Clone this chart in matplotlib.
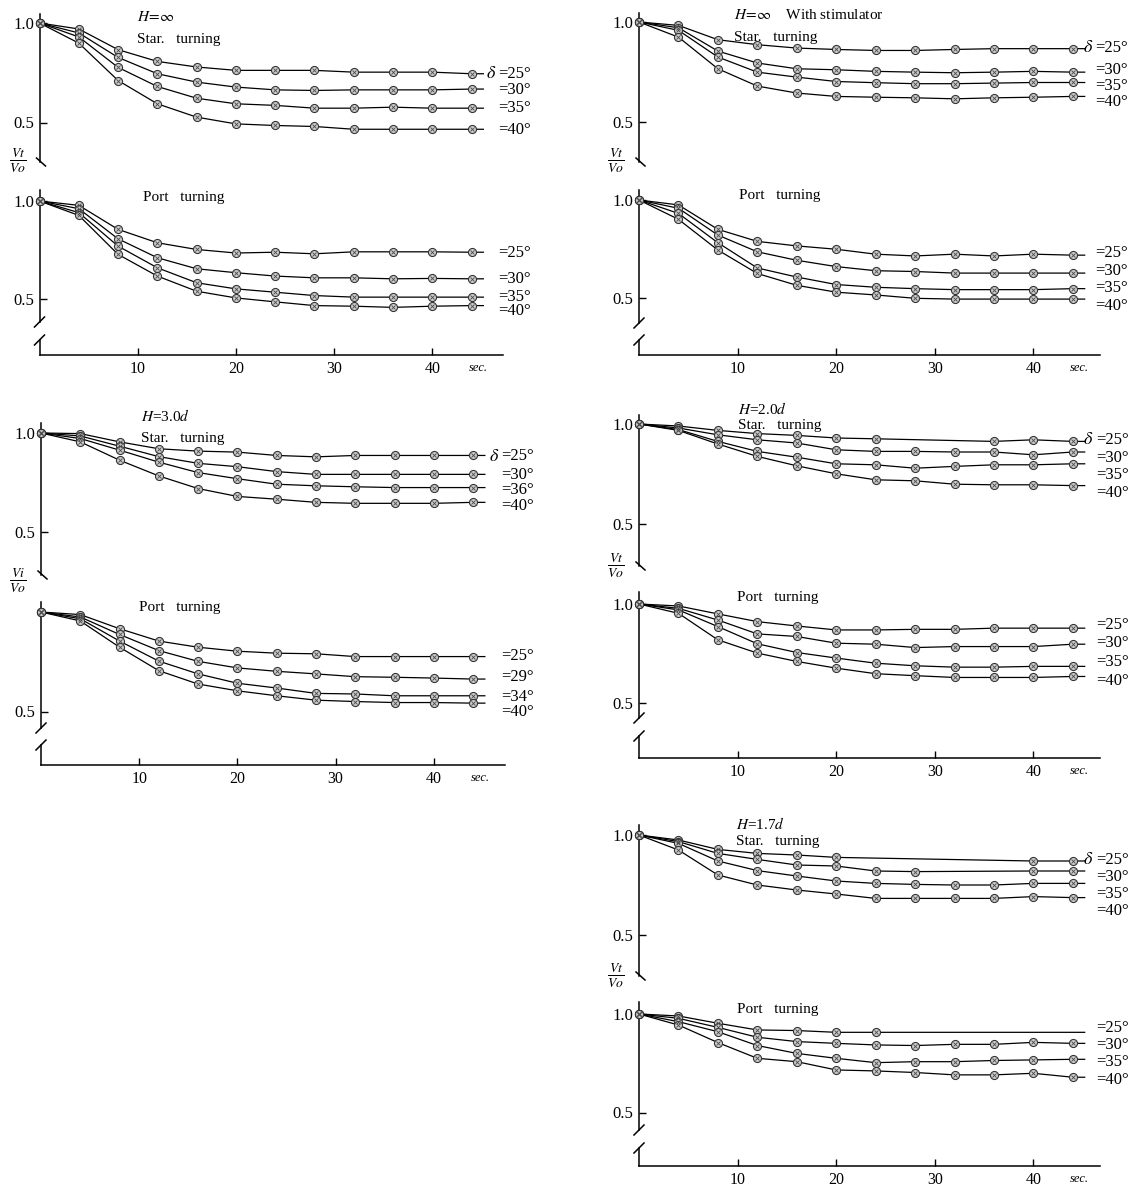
import matplotlib
matplotlib.use("Agg")
import matplotlib.pyplot as plt

plt.rcParams['font.family'] = ['Liberation Serif', 'DejaVu Serif']
plt.rcParams['mathtext.fontset'] = 'stix'

FIG_W, FIG_H, DPI = 1133, 1189, 100

# ------------------------------------------------------------------ data
TIME = [0, 4, 8, 12, 16, 20, 24, 28, 32, 36, 40, 44]
X_TICKS = [10, 20, 30, 40]

# H = infinity, starboard turning
A_STAR_25 = [1.0, 0.970, 0.866, 0.807, 0.779, 0.762, 0.762, 0.762, 0.753, 0.753, 0.753, 0.745]
A_STAR_30 = [1.0, 0.950, 0.827, 0.745, 0.703, 0.678, 0.664, 0.661, 0.664, 0.664, 0.664, 0.668]
A_STAR_35 = [1.0, 0.930, 0.777, 0.681, 0.622, 0.594, 0.586, 0.572, 0.572, 0.577, 0.572, 0.572]
A_STAR_40 = [1.0, 0.899, 0.711, 0.594, 0.527, 0.493, 0.485, 0.480, 0.466, 0.466, 0.466, 0.466]
# H = infinity, port turning
A_PORT_25 = [1.0, 0.978, 0.856, 0.788, 0.754, 0.736, 0.740, 0.732, 0.742, 0.742, 0.742, 0.740]
A_PORT_30 = [1.0, 0.961, 0.808, 0.712, 0.656, 0.636, 0.619, 0.610, 0.610, 0.605, 0.607, 0.605]
A_PORT_35 = [1.0, 0.941, 0.771, 0.661, 0.585, 0.554, 0.537, 0.520, 0.512, 0.512, 0.512, 0.512]
A_PORT_40 = [1.0, 0.927, 0.729, 0.619, 0.542, 0.508, 0.488, 0.469, 0.466, 0.460, 0.466, 0.469]

# H = infinity with stimulator, starboard turning
B_STAR_25 = [1.0, 0.983, 0.911, 0.886, 0.869, 0.862, 0.857, 0.857, 0.862, 0.866, 0.866, 0.866]
B_STAR_30 = [1.0, 0.971, 0.854, 0.794, 0.765, 0.760, 0.752, 0.748, 0.745, 0.748, 0.752, 0.748]
B_STAR_35 = [1.0, 0.958, 0.824, 0.748, 0.723, 0.701, 0.695, 0.690, 0.690, 0.693, 0.696, 0.696]
B_STAR_40 = [1.0, 0.924, 0.765, 0.678, 0.643, 0.626, 0.622, 0.619, 0.614, 0.619, 0.622, 0.626]
# H = infinity with stimulator, port turning
B_PORT_25 = [1.0, 0.975, 0.851, 0.790, 0.767, 0.750, 0.725, 0.716, 0.725, 0.716, 0.725, 0.720]
B_PORT_30 = [1.0, 0.958, 0.822, 0.737, 0.694, 0.662, 0.641, 0.637, 0.629, 0.629, 0.629, 0.629]
B_PORT_35 = [1.0, 0.932, 0.783, 0.655, 0.609, 0.571, 0.557, 0.550, 0.545, 0.545, 0.545, 0.550]
B_PORT_40 = [1.0, 0.902, 0.746, 0.627, 0.567, 0.532, 0.518, 0.501, 0.497, 0.497, 0.497, 0.497]

# H = 3.0d, starboard turning
C_STAR_25 = [1.0, 0.997, 0.955, 0.920, 0.908, 0.903, 0.886, 0.879, 0.886, 0.886, 0.886, 0.886]
C_STAR_30 = [1.0, 0.985, 0.933, 0.880, 0.846, 0.829, 0.804, 0.790, 0.790, 0.790, 0.790, 0.790]
C_STAR_36 = [1.0, 0.972, 0.913, 0.852, 0.799, 0.768, 0.740, 0.732, 0.727, 0.723, 0.723, 0.723]
C_STAR_40 = [1.0, 0.955, 0.862, 0.782, 0.718, 0.678, 0.664, 0.648, 0.643, 0.643, 0.643, 0.648]
# H = 3.0d, port turning
C_PORT_25 = [1.0, 0.987, 0.916, 0.854, 0.823, 0.803, 0.793, 0.790, 0.776, 0.776, 0.776, 0.776]
C_PORT_29 = [1.0, 0.975, 0.887, 0.806, 0.752, 0.719, 0.702, 0.689, 0.675, 0.672, 0.668, 0.663]
C_PORT_34 = [1.0, 0.966, 0.854, 0.753, 0.689, 0.642, 0.618, 0.591, 0.588, 0.579, 0.579, 0.579]
C_PORT_40 = [1.0, 0.955, 0.823, 0.705, 0.638, 0.604, 0.579, 0.557, 0.550, 0.545, 0.545, 0.542]

# H = 2.0d, starboard turning (None = no plotted point there)
D_STAR_25 = [1.0, 0.990, 0.968, 0.952, 0.943, 0.930, 0.926, None, None, 0.913, 0.921, 0.913]
D_STAR_30 = [1.0, 0.980, 0.946, 0.921, 0.905, 0.871, 0.863, 0.863, 0.860, 0.860, 0.846, 0.860]
D_STAR_35 = [1.0, 0.972, 0.913, 0.863, 0.834, 0.801, 0.796, 0.779, 0.788, 0.796, 0.796, 0.801]
D_STAR_40 = [1.0, 0.968, 0.900, 0.838, 0.791, 0.751, 0.721, 0.716, 0.699, 0.696, 0.696, 0.692]
# H = 2.0d, port turning
D_PORT_25 = [1.0, 0.990, 0.950, 0.911, 0.889, 0.869, 0.869, 0.872, 0.872, 0.878, 0.878, 0.878]
D_PORT_30 = [1.0, 0.978, 0.919, 0.849, 0.836, 0.802, 0.797, 0.780, 0.785, 0.785, 0.785, 0.797]
D_PORT_35 = [1.0, 0.970, 0.886, 0.799, 0.755, 0.727, 0.701, 0.688, 0.681, 0.681, 0.685, 0.685]
D_PORT_40 = [1.0, 0.953, 0.819, 0.752, 0.710, 0.676, 0.648, 0.638, 0.629, 0.629, 0.629, 0.634]

# H = 1.7d, starboard turning
E_STAR_25 = [1.0, 0.975, 0.928, 0.908, 0.900, 0.888, None, None, None, None, 0.870, 0.870]
E_STAR_30 = [1.0, 0.967, 0.908, 0.878, 0.850, 0.845, 0.820, 0.817, None, None, 0.820, 0.820]
E_STAR_35 = [1.0, 0.958, 0.870, 0.822, 0.795, 0.770, 0.758, 0.753, 0.750, 0.750, 0.758, 0.758]
E_STAR_40 = [1.0, 0.925, 0.800, 0.750, 0.725, 0.705, 0.683, 0.683, 0.683, 0.683, 0.692, 0.687]
# H = 1.7d, port turning
E_PORT_25 = [1.0, 0.990, 0.953, 0.919, 0.916, 0.907, 0.907, None, None, None, None, None]
E_PORT_30 = [1.0, 0.978, 0.932, 0.882, 0.860, 0.851, 0.843, 0.840, 0.846, 0.846, 0.856, 0.851]
E_PORT_35 = [1.0, 0.961, 0.910, 0.840, 0.800, 0.775, 0.753, 0.758, 0.758, 0.764, 0.767, 0.770]
E_PORT_40 = [1.0, 0.944, 0.855, 0.775, 0.758, 0.716, 0.711, 0.703, 0.691, 0.691, 0.699, 0.679]

LABELS_STD = ['=25°', '=30°', '=35°', '=40°']
LABELS_C_STAR = ['=25°', '=30°', '=36°', '=40°']
LABELS_C_PORT = ['=25°', '=29°', '=34°', '=40°']

TITLES = {
    'A': r'$H\!=\!\infty$',
    'B': r'$H\!=\!\infty$    With stimulator',
    'C': r'$H$=3.0$d$',
    'D': r'$H$=2.0$d$',
    'E': r'$H$=1.7$d$',
}
STAR_TEXT = 'Star.   turning'
PORT_TEXT = 'Port   turning'
FRAC = {'A': r'$\frac{Vt}{Vo}$', 'B': r'$\frac{Vt}{Vo}$', 'C': r'$\frac{Vi}{Vo}$',
        'D': r'$\frac{Vt}{Vo}$', 'E': r'$\frac{Vt}{Vo}$'}

SERIES = {
    'A': ([A_STAR_25, A_STAR_30, A_STAR_35, A_STAR_40], [A_PORT_25, A_PORT_30, A_PORT_35, A_PORT_40],
          LABELS_STD, LABELS_STD),
    'B': ([B_STAR_25, B_STAR_30, B_STAR_35, B_STAR_40], [B_PORT_25, B_PORT_30, B_PORT_35, B_PORT_40],
          LABELS_STD, LABELS_STD),
    'C': ([C_STAR_25, C_STAR_30, C_STAR_36, C_STAR_40], [C_PORT_25, C_PORT_29, C_PORT_34, C_PORT_40],
          LABELS_C_STAR, LABELS_C_PORT),
    'D': ([D_STAR_25, D_STAR_30, D_STAR_35, D_STAR_40], [D_PORT_25, D_PORT_30, D_PORT_35, D_PORT_40],
          LABELS_STD, LABELS_STD),
    'E': ([E_STAR_25, E_STAR_30, E_STAR_35, E_STAR_40], [E_PORT_25, E_PORT_30, E_PORT_35, E_PORT_40],
          LABELS_STD, LABELS_STD),
}

# ------------------------------------------------------------------ layout (pixels)
LINE_END = 45.2
LAYOUT = {
    'A': dict(x0=39.5, pps=9.82, right=503,
              star=dict(y1=23, ppu=199, top=14, bottom=162, yticks=[1.0, 0.5]),
              port=dict(y1=201, ppu=197, top=190, bottom=355, yticks=[1.0, 0.5], brk=(322, 340)),
              title=(137, 17), title2=(137, 39), port_title=(143, 198), frac=(18, 161),
              lab_star=[74, 90, 108, 130], lab_port=[253, 279, 297, 311], lab_x=498, delta_x=486),
    'B': dict(x0=639, pps=9.86, right=1100,
              star=dict(y1=22, ppu=199, top=13, bottom=162, yticks=[1.0, 0.5]),
              port=dict(y1=200, ppu=197, top=190, bottom=355, yticks=[1.0, 0.5], brk=(323, 340)),
              title=(734, 15), title2=(734, 37), port_title=(739, 195), frac=(616, 161),
              lab_star=[48, 70, 86, 102], lab_port=[253, 271, 288, 306], lab_x=1095, delta_x=1083),
    'C': dict(x0=41, pps=9.82, right=505,
              star=dict(y1=433, ppu=197, top=423, bottom=575, yticks=[1.0, 0.5]),
              port=dict(y1=612, ppu=199, top=602, bottom=765, yticks=[0.5], brk=(728, 745)),
              title=(141, 416), title2=(141, 438), port_title=(139, 607), frac=(18, 581),
              lab_star=[456, 475, 490, 506], lab_port=[656, 677, 697, 712], lab_x=501, delta_x=489),
    'D': dict(x0=639, pps=9.86, right=1100,
              star=dict(y1=424, ppu=200, top=415, bottom=566, yticks=[1.0, 0.5]),
              port=dict(y1=604, ppu=198, top=592, bottom=758, yticks=[1.0, 0.5], brk=(718, 736)),
              title=(738, 409), title2=(738, 425), port_title=(737, 598), frac=(616, 566),
              lab_star=[440, 458, 475, 493], lab_port=[625, 643, 662, 681], lab_x=1096, delta_x=1083),
    'E': dict(x0=639, pps=9.86, right=1100,
              star=dict(y1=835, ppu=200, top=825, bottom=976, yticks=[1.0, 0.5]),
              port=dict(y1=1014, ppu=197, top=1002, bottom=1166, yticks=[1.0, 0.5], brk=(1130, 1148)),
              title=(736, 824), title2=(736, 842), port_title=(737, 1010), frac=(616, 976),
              lab_star=[860, 877, 894, 911], lab_port=[1028, 1045, 1062, 1080], lab_x=1096, delta_x=1083),
}

AX_LW = 1.1
FS_TICK = 12
FS_TEXT = 11

fig = plt.figure(figsize=(FIG_W / DPI, FIG_H / DPI), dpi=DPI, facecolor='white')


def px_fig(x, y):
    return x / FIG_W, 1 - y / FIG_H


def make_axes(x0, pps, right, p):
    top, bottom, y1, ppu = p['top'], p['bottom'], p['y1'], p['ppu']
    ax = fig.add_axes([x0 / FIG_W, 1 - bottom / FIG_H, (right - x0) / FIG_W, (bottom - top) / FIG_H])
    ax.set_xlim(0, (right - x0) / pps)
    ax.set_ylim(1 - (bottom - y1) / ppu, 1 + (y1 - top) / ppu)
    ax.set_facecolor('none')
    for s in ax.spines.values():
        s.set_visible(False)
        s.set_linewidth(AX_LW)
    ax.set_yticks(p['yticks'])
    ax.set_yticklabels(['%.1f' % v for v in p['yticks']])
    ax.tick_params(axis='y', direction='in', length=5, width=1.0, pad=4, labelsize=FS_TICK)
    return ax


def draw_series(ax, values):
    ts = [t for t, v in zip(TIME, values) if v is not None]
    vs = [v for v in values if v is not None]
    ax.plot(ts + [LINE_END], vs + [vs[-1]], color='black', lw=0.9, zorder=2, clip_on=False)
    ax.plot(ts, vs, ls='none', marker='o', ms=5.8, mfc='#cccccc', mec='#333333', mew=0.8,
            zorder=3, clip_on=False)
    ax.plot(ts, vs, ls='none', marker='x', ms=3.2, mec='#4a4a4a', mew=0.6, zorder=4, clip_on=False)


for key, lay in LAYOUT.items():
    star_series, port_series, star_labels, port_labels = SERIES[key]
    x0, pps, right = lay['x0'], lay['pps'], lay['right']

    # ---- starboard panel
    st = lay['star']
    ax_s = make_axes(x0, pps, right, st)
    ax_s.set_xticks([])
    ax_s.spines['left'].set_visible(True)
    ylo, yhi = ax_s.get_ylim()
    ax_s.plot([-3 / pps, 6 / pps], [ylo + 4 / st['ppu'], ylo - 4 / st['ppu']],
              color='black', lw=AX_LW, clip_on=False)
    for vals in star_series:
        draw_series(ax_s, vals)
    lab_t = (lay['lab_x'] - x0) / pps
    for i, (lab, py) in enumerate(zip(star_labels, lay['lab_star'])):
        v = 1 - (py - st['y1']) / st['ppu']
        ax_s.text(lab_t, v, lab, ha='left', va='center', fontsize=FS_TICK)
        if i == 0:
            ax_s.text((lay['delta_x'] - x0) / pps, v, r'$\delta$', ha='left', va='center',
                      fontsize=FS_TICK + 1)

    # ---- port panel
    pt = lay['port']
    ax_p = make_axes(x0, pps, right, pt)
    ylo, yhi = ax_p.get_ylim()
    b_hi = 1 - (pt['brk'][0] - pt['y1']) / pt['ppu']
    b_lo = 1 - (pt['brk'][1] - pt['y1']) / pt['ppu']
    ax_p.spines['left'].set_visible(True)
    ax_p.spines['left'].set_bounds(b_hi, yhi)
    ax_p.plot([0, 0], [ylo, b_lo], color='black', lw=AX_LW, clip_on=False)
    for bv in (b_hi, b_lo):
        ax_p.plot([-5 / pps, 5 / pps], [bv - 5 / pt['ppu'], bv + 5 / pt['ppu']],
                  color='black', lw=AX_LW, clip_on=False)
    ax_p.spines['bottom'].set_visible(True)
    ax_p.set_xticks(X_TICKS)
    ax_p.set_xticklabels([str(v) for v in X_TICKS])
    ax_p.tick_params(axis='x', direction='in', length=5, width=1.0, pad=4, labelsize=FS_TICK - 0.5)
    ax_p.text(44.7, ylo - 13 / pt['ppu'], 'sec.', ha='center', va='center', fontsize=9,
              style='italic')
    for vals in port_series:
        draw_series(ax_p, vals)
    for lab, py in zip(port_labels, lay['lab_port']):
        v = 1 - (py - pt['y1']) / pt['ppu']
        ax_p.text(lab_t, v, lab, ha='left', va='center', fontsize=FS_TICK)

    # ---- texts
    fig.text(*px_fig(*lay['title']), TITLES[key], ha='left', va='center', fontsize=FS_TEXT)
    fig.text(*px_fig(*lay['title2']), STAR_TEXT, ha='left', va='center', fontsize=FS_TEXT)
    fig.text(*px_fig(*lay['port_title']), PORT_TEXT, ha='left', va='center', fontsize=FS_TEXT)
    fig.text(*px_fig(*lay['frac']), FRAC[key], ha='center', va='center', fontsize=14)

fig.savefig('out.png', dpi=DPI, facecolor='white')
